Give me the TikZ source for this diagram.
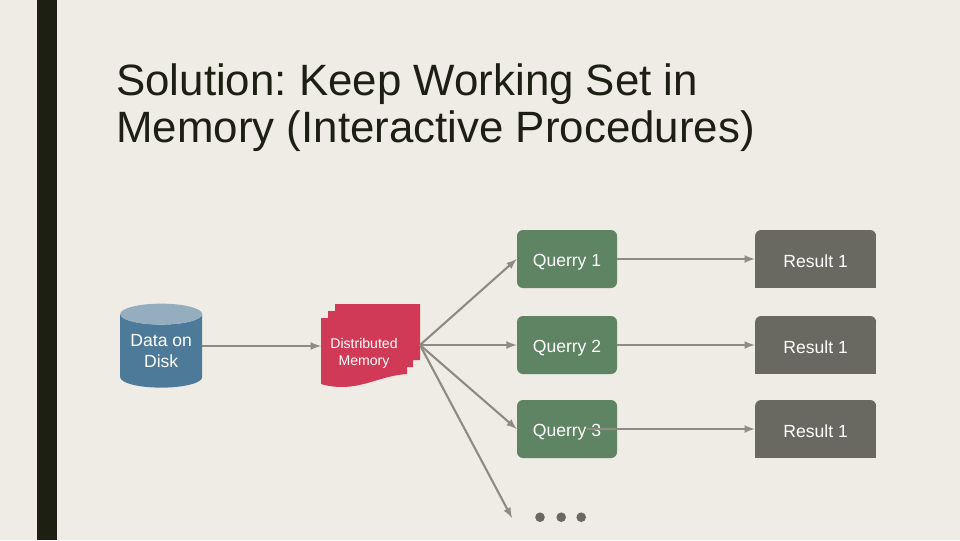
\documentclass[tikz,border=0pt]{standalone}
\usepackage{fontspec}
\setmainfont{Liberation Sans}
\usepackage{xcolor}
\usetikzlibrary{shapes,shapes.geometric,arrows,positioning}
\definecolor{slidebg}{HTML}{EEECE4}
\definecolor{slidedark}{HTML}{1D1F12}
\definecolor{diskblue}{HTML}{4E7A9A}
\definecolor{disktop}{HTML}{94AEC0}
\definecolor{memred}{HTML}{D13A57}
\definecolor{querygreen}{HTML}{5F8463}
\definecolor{resgrey}{HTML}{696962}
\definecolor{linegrey}{HTML}{8E8B82}
\frenchspacing

\begin{document}
\begin{tikzpicture}
\tikzstyle{query}=[rectangle, fill=querygreen, rounded corners=0.15cm, text=white, font=\fontsize{12.5}{15}\selectfont, text height=11pt, text depth=0pt, minimum width=2.5cm, minimum height=1.45cm, inner sep=0pt]
\tikzstyle{result}=[rectangle, fill=resgrey, text=white, font=\fontsize{12.5}{15}\selectfont, text height=11.8pt, text depth=0pt, minimum width=3.025cm, minimum height=1.45cm, inner sep=0pt, path picture={\fill[slidebg] (path picture bounding box.north west) rectangle ++(0.15,-0.15); \fill[slidebg] (path picture bounding box.north east) rectangle ++(-0.15,-0.15); \fill[resgrey] ([shift={(0.15,-0.15)}]path picture bounding box.north west) circle (0.15); \fill[resgrey] ([shift={(-0.15,-0.15)}]path picture bounding box.north east) circle (0.15);}]
\tikzstyle{link}=[draw=linegrey, line width=1.5pt, -latex]
\tikzstyle{dot}=[circle, fill=resgrey, minimum size=0.24cm, inner sep=0pt]

\useasboundingbox (0,0) rectangle (24,-13.5);
\fill[slidebg] (0,0) rectangle (24,-13.5);
\fill[slidedark] (0.925,0) rectangle (1.425,-13.5);

\node[anchor=north west, align=left, inner sep=0pt, text=slidedark, font=\fontsize{31.2}{33.4}\selectfont] (title) at (2.9,-1.58) {Solution: Keep Working Set in\\Memory (Interactive Procedures)};

\node[cylinder, shape border rotate=90, aspect=0.34, cylinder uses custom fill, cylinder body fill=diskblue, cylinder end fill=disktop, text=white, align=center, font=\fontsize{12.5}{15}\selectfont, minimum width=2.05cm, minimum height=2.1cm, inner sep=0pt] (disk) at (4.03,-8.775) {Data on\\Disk};

% stacked pages
\fill[memred] (8.375,-7.6) -- (10.5,-7.6) -- (10.5,-9) -- (10.325,-9) -- (10.325,-9.175) -- (10.175,-9.175) -- (10.175,-9.35)
  .. controls (9.4,-9.4) and (8.9,-9.85) .. (8.025,-9.6) -- (8.025,-7.95) -- (8.2,-7.95) -- (8.2,-7.775) -- (8.375,-7.775) -- cycle;
\node[text=white, align=center, inner sep=0pt, font=\fontsize{10}{12}\selectfont] (memory) at (9.1,-8.825) {Distributed\\Memory};
\coordinate (memin) at (8.025,-8.65);
\coordinate (diskout) at (5.05,-8.65);
\coordinate (fan) at (10.5,-8.625);

\node[query] (q1) at (14.175,-6.475) {Querry 1};
\node[query] (q2) at (14.175,-8.625) {Querry 2};
\node[query] (q3) at (14.175,-10.725) {Querry 3};

\node[result] (r1) at (20.39,-6.475) {Result 1};
\node[result] (r2) at (20.39,-8.625) {Result 1};
\node[result] (r3) at (20.39,-10.725) {Result 1};

\node[dot] (d1) at (13.5,-12.93) {};
\node[dot] (d2) at (14.03,-12.93) {};
\node[dot] (d3) at (14.53,-12.93) {};
\coordinate (more) at (12.8,-12.95);
\coordinate (q3out) at (14.675,-10.725);

\draw[link] (diskout) -- (memin);
\draw[link] (fan) -- (q1.west);
\draw[link] (fan) -- (q2.west);
\draw[link] (fan) -- (q3.west);
\draw[link] (fan) -- (more);
\draw[link] (q1) -- (r1);
\draw[link] (q2) -- (r2);
\draw[link] (q3out) -- (r3);
\end{tikzpicture}
\end{document}
